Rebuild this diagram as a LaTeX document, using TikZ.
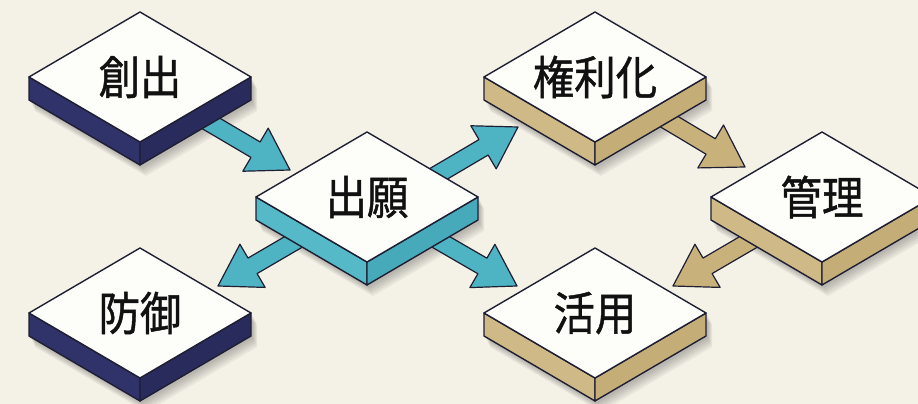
\documentclass[tikz,border=0pt]{standalone}
\usepackage{fontspec}
\newfontfamily\cjk{Noto Sans CJK JP}[FakeStretch=0.9,FakeBold=1]
\usetikzlibrary{calc}
\pgfdeclarelayer{bgl}
\pgfdeclarelayer{shadowl}
\pgfdeclarelayer{arrowl}
\pgfsetlayers{bgl,shadowl,arrowl,main}
\definecolor{bgcol}{HTML}{F4F1E7}
\definecolor{linecol}{HTML}{1E1F33}
\definecolor{topcol}{HTML}{FDFDFA}
\definecolor{textcol}{HTML}{111111}
\definecolor{navyL}{HTML}{30326A}
\definecolor{navyR}{HTML}{292B5C}
\definecolor{tealL}{HTML}{55B9C7}
\definecolor{tealR}{HTML}{47AABA}
\definecolor{tealA}{HTML}{4EB4C3}
\definecolor{tanL}{HTML}{CFB986}
\definecolor{tanR}{HTML}{C5AD77}
\definecolor{tanA}{HTML}{C9B17B}
\tikzset{
  tileline/.style={draw=linecol, line width=1.4pt, line join=round},
  topface/.style={tileline, fill=topcol},
  tiletext/.style={font=\cjk\fontsize{46}{50}\selectfont, text=textcol, inner sep=0pt},
  blockarr/.style={draw=linecol, line width=1.2pt, line join=round},
}
\newcommand{\isotile}[6]{%
  \coordinate (#1-c) at (#2,#3);
  \begin{scope}[shift={(#1-c)}]
    \begin{pgfonlayer}{shadowl}
      \foreach \i in {0,1,2,3,4}{
        \fill[black, opacity=0.05, shift={(2+\i,-3-2*\i)}]
          (-111,0) -- (0,65) -- (111,0) -- (111,-23) -- (0,-88) -- (-111,-23) -- cycle;
      }
    \end{pgfonlayer}
    \path[tileline, fill=#4] (-111,0) -- (0,-65) -- (0,-88) -- (-111,-23) -- cycle;
    \path[tileline, fill=#5] (0,-65) -- (111,0) -- (111,-23) -- (0,-88) -- cycle;
    \path[topface] (-111,0) -- (0,65) -- (111,0) -- (0,-65) -- cycle;
  \end{scope}
  \node[tiletext] (#1) at (#1-c) {#6};
}
\newcommand{\blockarrow}[3]{%
  \begin{pgfonlayer}{arrowl}
    \coordinate (tmph) at ($(#2)!40pt!(#1)$);
    \path[blockarr, fill=#3]
      ($(#1)!9pt!90:(#2)$) -- ($(tmph)!9pt!90:(#2)$) -- ($(tmph)!25pt!90:(#2)$)
      -- (#2) -- ($(tmph)!25pt!-90:(#2)$) -- ($(tmph)!9pt!-90:(#2)$)
      -- ($(#1)!9pt!-90:(#2)$) -- cycle;
  \end{pgfonlayer}
}
\begin{document}
\begin{tikzpicture}[x=1pt,y=1pt]
  \useasboundingbox (0,0) rectangle (918,404);
  \begin{pgfonlayer}{bgl}
    \fill[bgcol] (0,0) rectangle (918,404);
  \end{pgfonlayer}
  \clip (0,0) rectangle (918,404);
  \isotile{souzou}{140}{327}{navyL}{navyR}{創出}
  \isotile{bougyo}{140}{91}{navyL}{navyR}{防御}
  \isotile{shutsugan}{367}{207}{tealL}{tealR}{出願}
  \isotile{kenrika}{595}{327}{tanL}{tanR}{権利化}
  \isotile{katsuyou}{595}{91}{tanL}{tanR}{活用}
  \isotile{kanri}{822}{207}{tanL}{tanR}{管理}
  % arrow end points
  \coordinate (a1s) at ($(souzou)+(38,-27)$);
  \coordinate (a1t) at ($(shutsugan)+(-77,27)$);
  \coordinate (a2s) at ($(shutsugan)+(39,4)$);
  \coordinate (a2t) at ($(kenrika)+(-77,-50)$);
  \coordinate (a3s) at ($(shutsugan)+(-36,-23)$);
  \coordinate (a3t) at ($(bougyo)+(78,27)$);
  \coordinate (a4s) at ($(shutsugan)+(36,-23)$);
  \coordinate (a4t) at ($(katsuyou)+(-78,27)$);
  \coordinate (a5s) at ($(kenrika)+(38,-23)$);
  \coordinate (a5t) at ($(kanri)+(-77,30)$);
  \coordinate (a6s) at ($(kanri)+(-36,-23)$);
  \coordinate (a6t) at ($(katsuyou)+(78,27)$);
  \blockarrow{a1s}{a1t}{tealA}
  \blockarrow{a2s}{a2t}{tealA}
  \blockarrow{a3s}{a3t}{tealA}
  \blockarrow{a4s}{a4t}{tealA}
  \blockarrow{a5s}{a5t}{tanA}
  \blockarrow{a6s}{a6t}{tanA}
\end{tikzpicture}
\end{document}
